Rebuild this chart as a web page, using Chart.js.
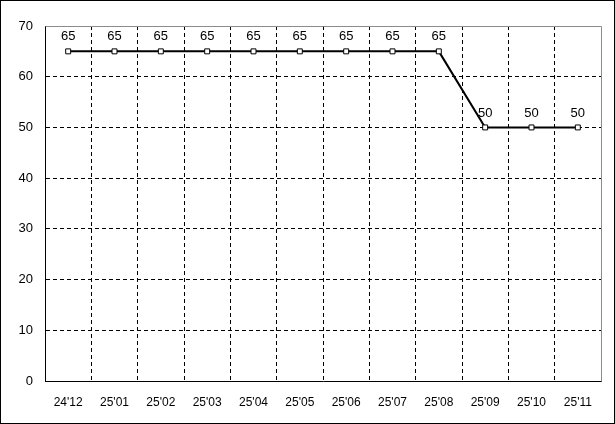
<!DOCTYPE html>
<html>
<head>
<meta charset="utf-8">
<script src="https://cdn.jsdelivr.net/npm/chart.js@4"></script>
<style>
  html, body { margin: 0; padding: 0; background: #fff; }
  #wrap { width: 615px; height: 424px; }
</style>
</head>
<body>
<div id="wrap"><canvas id="chart" width="615" height="424"></canvas></div>
<script>
// month labels and values
const months = ["24'12", "25'01", "25'02", "25'03", "25'04", "25'05", "25'06", "25'07", "25'08", "25'09", "25'10", "25'11"];
const values = [65, 65, 65, 65, 65, 65, 65, 65, 65, 50, 50, 50];
const yTicks = [0, 10, 20, 30, 40, 50, 60, 70];

const FONT = 'Liberation Sans, Arial, sans-serif';

// outer frame, grey top/right border and the value labels
const framePlugin = {
    id: 'frame',
    beforeDraw(chart) {
        const c = chart.ctx;
        c.save();
        c.fillStyle = '#fff';
        c.fillRect(0, 0, chart.width, chart.height);
        c.restore();
    },
    afterDatasetsDraw(chart) {
        const c = chart.ctx;
        c.save();
        // value labels over each point
        const meta = chart.getDatasetMeta(0);
        c.fillStyle = '#000';
        c.font = '13px ' + FONT;
        c.textAlign = 'center';
        c.textBaseline = 'bottom';
        meta.data.forEach((pt, i) => {
            c.fillText(String(values[i]), pt.x, pt.y - 8);
        });
        c.restore();
    },
    afterDraw(chart) {
        const c = chart.ctx;
        const a = chart.chartArea;
        c.save();
        c.lineWidth = 1;
        c.strokeStyle = '#8c8c8c';
        c.beginPath();
        c.moveTo(Math.round(a.left) + 0.5, Math.round(a.top) + 0.5);
        c.lineTo(Math.round(a.right) + 0.5, Math.round(a.top) + 0.5);
        c.lineTo(Math.round(a.right) + 0.5, Math.round(a.bottom) + 0.5);
        c.stroke();
        c.strokeStyle = '#000';
        c.strokeRect(0.5, 0.5, chart.width - 1, chart.height - 1);
        c.restore();
    }
};

new Chart(document.getElementById('chart').getContext('2d'), {
    type: 'line',
    data: {
        labels: months,
        datasets: [{
            data: values,
            borderColor: '#000',
            borderWidth: 2,
            tension: 0,
            pointStyle: 'rect',
            pointRadius: 3.5,
            pointBackgroundColor: '#fff',
            pointBorderColor: '#000',
            pointBorderWidth: 1
        }]
    },
    options: {
        responsive: false,
        animation: false,
        events: [],
        layout: { padding: { top: 26, right: 14, left: 0, bottom: 0 } },
        plugins: {
            legend: { display: false },
            tooltip: { enabled: false }
        },
        scales: {
            x: {
                offset: true,
                grid: {
                    offset: true,
                    drawTicks: false,
                    color: (c) => (c.type === 'tick' && c.index > 0) ? '#000' : 'rgba(0,0,0,0)',
                    lineWidth: 1
                },
                border: { display: true, color: '#000', width: 1, dash: [4, 3] },
                ticks: {
                    color: '#000',
                    font: { family: FONT, size: 12 },
                    padding: 14,
                    maxRotation: 0,
                    autoSkip: false
                },
                afterFit(scale) { scale.height = 43; }
            },
            y: {
                min: 0,
                max: 70,
                afterBuildTicks(scale) { scale.ticks = yTicks.map(v => ({ value: v })); },
                grid: {
                    drawTicks: false,
                    color: (c) => (c.tick && c.tick.value > 0 && c.tick.value < 70) ? '#000' : 'rgba(0,0,0,0)',
                    lineWidth: 1
                },
                border: { display: true, color: '#000', width: 1, dash: [4, 3] },
                ticks: {
                    color: '#000',
                    font: { family: FONT, size: 13 },
                    padding: 12
                },
                afterFit(scale) { scale.width = 45; }
            }
        }
    },
    plugins: [framePlugin]
});
</script>
</body>
</html>
